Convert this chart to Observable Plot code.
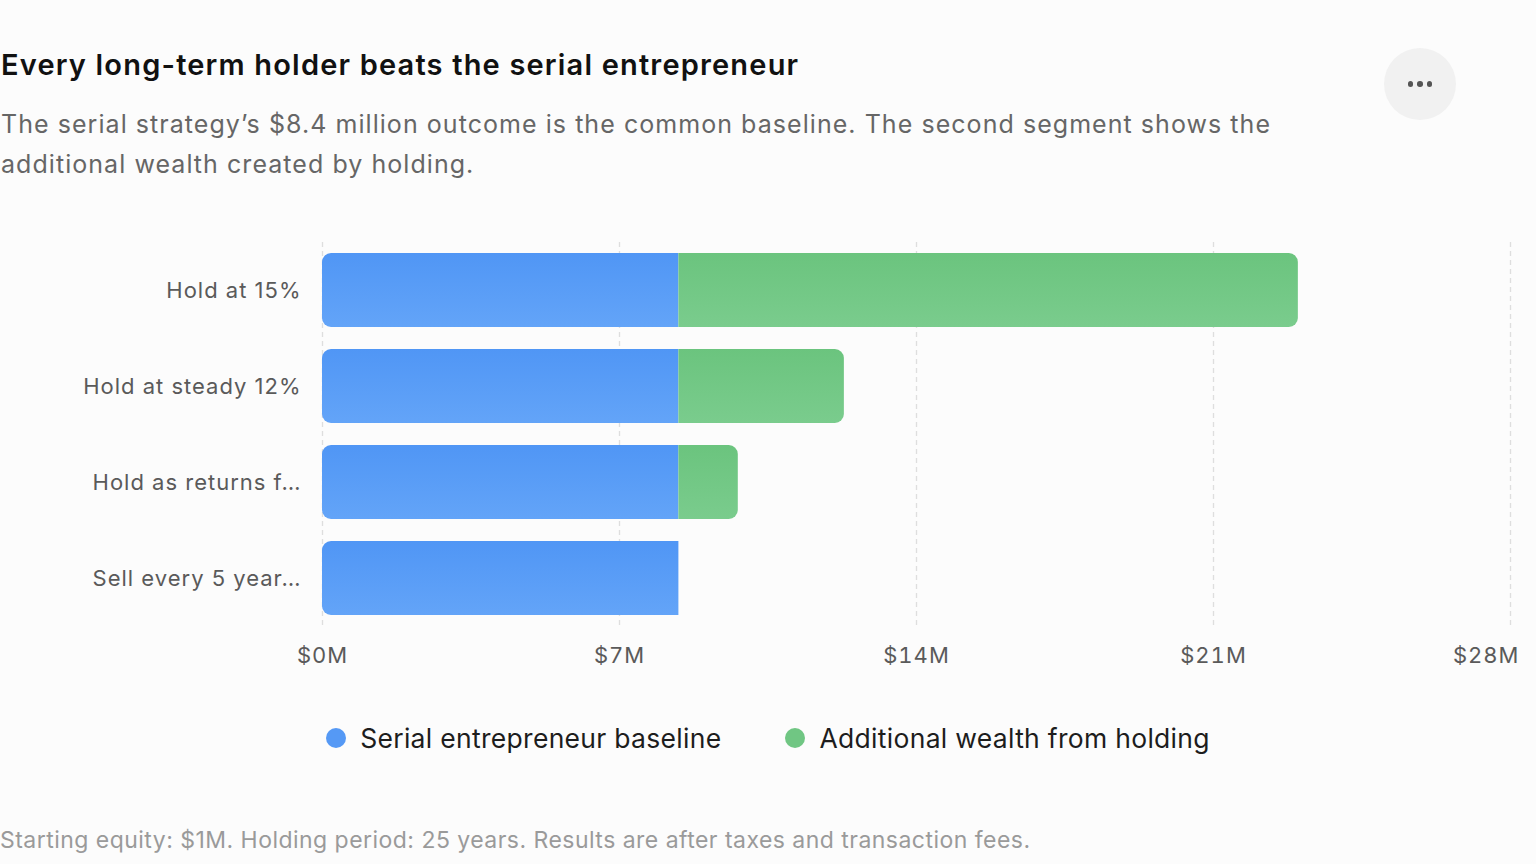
<!DOCTYPE html>
<html>
<head>
<meta charset="utf-8">
<script src="https://cdn.jsdelivr.net/npm/d3@7"></script>
<script src="https://cdn.jsdelivr.net/npm/@observablehq/plot@0.6"></script>
<style>
  html, body { margin: 0; padding: 0; background: #fcfcfc; width: 1536px; height: 864px; overflow: hidden; font-family: Inter, "Noto Sans", sans-serif; }
  #title { position: absolute; left: 1px; top: 51px; font-size: 29px; line-height: 28px; font-weight: 600; color: #111; letter-spacing: 1.18px; white-space: nowrap; }
  #subtitle { position: absolute; left: 1px; top: 104px; width: 1300px; font-size: 25px; line-height: 40px; color: #666; letter-spacing: 1.05px; }
  #menu { position: absolute; left: 1384px; top: 48px; width: 72px; height: 72px; border-radius: 50%; background: #f1f1f1; display: flex; align-items: center; justify-content: center; gap: 4px; }
  #menu span { width: 5.5px; height: 5.5px; border-radius: 50%; background: #555; display: block; }
  #chart { position: absolute; left: 0; top: 220px; }
  #legend { position: absolute; left: 0; top: 725px; width: 1536px; display: flex; justify-content: center; gap: 64px; font-size: 26.5px; line-height: 26px; color: #1d1d1d; letter-spacing: 0.3px; }
  #legend .item { display: flex; align-items: center; gap: 14px; }
  #legend .dot { width: 20px; height: 20px; border-radius: 50%; }
  #note { position: absolute; left: 0; top: 828px; font-size: 23px; line-height: 24px; color: #9a9a9a; white-space: nowrap; letter-spacing: 0.47px; }
</style>
</head>
<body>
<div id="title">Every long-term holder beats the serial entrepreneur</div>
<div id="subtitle">The serial strategy’s $8.4 million outcome is the common baseline. The second segment shows the additional wealth created by holding.</div>
<div id="menu"><span></span><span></span><span></span></div>
<div id="chart"></div>
<div id="legend"></div>
<div id="note">Starting equity: $1M. Holding period: 25 years. Results are after taxes and transaction fees.</div>
<script>
// ---- data ----
const strategies = ["Hold at 15%", "Hold at steady 12%", "Hold as returns f…", "Sell every 5 year…"];
const baselineM = [8.4, 8.4, 8.4, 8.4];          // serial entrepreneur baseline, $M
const additionalM = [14.6, 3.9, 1.4, 0];         // additional wealth from holding, $M
const xTicks = [0, 7, 14, 21, 28];
const seriesNames = ["Serial entrepreneur baseline", "Additional wealth from holding"];
const seriesColors = ["#5599f5", "#70c683"];

const rows = strategies.map((s, i) => ({
  strategy: s,
  base: baselineM[i],
  extra: additionalM[i],
  total: baselineM[i] + additionalM[i]
}));
const extraRows = rows.filter(d => d.extra > 0);

const plot = Plot.plot({
  width: 1536,
  height: 470,
  marginTop: 22,
  marginBottom: 64,
  marginLeft: 322,
  marginRight: 26,
  style: { fontFamily: "Inter, 'Noto Sans', sans-serif", background: "transparent", overflow: "visible", letterSpacing: "1px" },
  x: { domain: [0, 28], label: null },
  y: { domain: strategies, label: null, paddingInner: 0.229, paddingOuter: 0.104 },
  marks: [
    Plot.ruleX(xTicks, { stroke: "#dedede", strokeWidth: 1.3, strokeDasharray: "5,4" }),
    Plot.barX(rows, { y: "strategy", x1: 0, x2: "base", fill: "url(#gradBlue)" }),
    Plot.barX(extraRows, { y: "strategy", x1: "base", x2: "total", fill: "url(#gradGreen)" }),
    Plot.axisY({ tickSize: 0, tickPadding: 21, fontSize: 22, color: "#5a5a5a", label: null }),
    Plot.axisX({ ticks: xTicks.slice(0, -1), tickSize: 0, tickPadding: 21, fontSize: 22, color: "#5a5a5a", tickFormat: d => `$${d}M`, label: null }),
    Plot.axisX({ ticks: xTicks.slice(-1), tickSize: 0, tickPadding: 21, fontSize: 22, color: "#5a5a5a", tickFormat: d => `$${d}M`, textAnchor: "end", dx: 9, label: null })
  ]
});

// gradients for bar fills
const ns = "http://www.w3.org/2000/svg";
const defs = document.createElementNS(ns, "defs");
function grad(id, top, bottom) {
  const g = document.createElementNS(ns, "linearGradient");
  g.setAttribute("id", id);
  g.setAttribute("x1", "0"); g.setAttribute("y1", "0");
  g.setAttribute("x2", "0"); g.setAttribute("y2", "1");
  [[0, top], [1, bottom]].forEach(([o, c]) => {
    const s = document.createElementNS(ns, "stop");
    s.setAttribute("offset", o);
    s.setAttribute("stop-color", c);
    g.appendChild(s);
  });
  defs.appendChild(g);
}
grad("gradBlue", "#5096f5", "#63a4f8");
grad("gradGreen", "#6bc47e", "#7acc8d");
plot.insertBefore(defs, plot.firstChild);

// Round only the outer ends of each stacked bar: turn each Plot-placed rect into a path
// with rounded corners on the left (baseline segment) or right (additional segment).
const R = 9;
function roundedPath(x, y, w, h, left, right) {
  const rl = left ? Math.min(R, w / 2, h / 2) : 0;
  const rr = right ? Math.min(R, w / 2, h / 2) : 0;
  return `M${x + rl},${y}H${x + w - rr}` +
    (rr ? `A${rr},${rr} 0 0 1 ${x + w},${y + rr}` : "") +
    `V${y + h - rr}` +
    (rr ? `A${rr},${rr} 0 0 1 ${x + w - rr},${y + h}` : "") +
    `H${x + rl}` +
    (rl ? `A${rl},${rl} 0 0 1 ${x},${y + h - rl}` : "") +
    `V${y + rl}` +
    (rl ? `A${rl},${rl} 0 0 1 ${x + rl},${y}` : "") + "Z";
}
const rectGroups = [...new Set([...plot.querySelectorAll("rect")].map(r => r.parentNode))];
rectGroups.forEach((g, k) => {
  [...g.querySelectorAll("rect")].forEach(r => {
    const x = +r.getAttribute("x"), y = +r.getAttribute("y");
    const w = +r.getAttribute("width"), h = +r.getAttribute("height");
    const p = document.createElementNS(ns, "path");
    p.setAttribute("d", roundedPath(x, y, w, h, k === 0, k === 1));
    for (const a of ["fill", "transform"]) if (r.getAttribute(a)) p.setAttribute(a, r.getAttribute(a));
    r.replaceWith(p);
  });
});
document.getElementById("chart").appendChild(plot);

// legend
const legend = document.getElementById("legend");
seriesNames.forEach((n, i) => {
  const item = document.createElement("div");
  item.className = "item";
  const dot = document.createElement("div");
  dot.className = "dot";
  dot.style.background = seriesColors[i];
  const label = document.createElement("span");
  label.textContent = n;
  item.appendChild(dot);
  item.appendChild(label);
  legend.appendChild(item);
});
</script>
</body>
</html>
